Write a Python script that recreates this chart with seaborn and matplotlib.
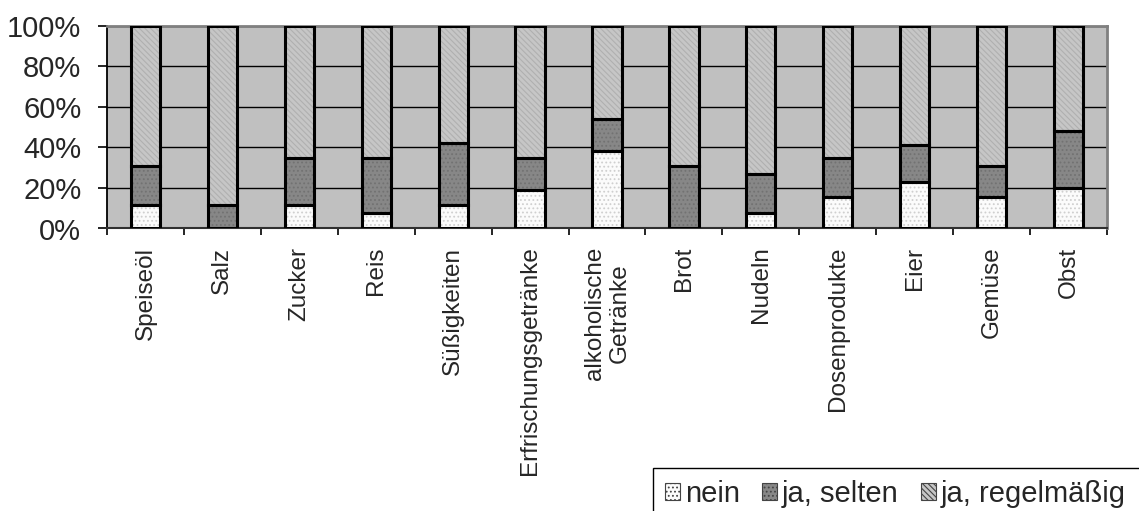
import matplotlib
matplotlib.use("Agg")
import matplotlib.pyplot as plt
from matplotlib.patches import Patch, Rectangle
import seaborn as sns
import pandas as pd

# Share of answers per food group (percent)
categories = ["Speiseöl", "Salz", "Zucker", "Reis", "Süßigkeiten",
              "Erfrischungsgetränke", "alkoholische\nGetränke", "Brot",
              "Nudeln", "Dosenprodukte", "Eier", "Gemüse", "Obst"]
nein = [11.5, 0.0, 11.5, 7.7, 11.5, 19.2, 38.5, 0.0, 7.7, 15.4, 23.1, 15.4, 20.0]
ja_selten = [19.2, 11.5, 23.1, 26.9, 30.8, 15.4, 15.4, 30.8, 19.2, 19.2, 18.1, 15.4, 28.0]
ja_regelmaessig = [69.3, 88.5, 65.4, 65.4, 57.7, 65.4, 46.1, 69.2, 73.1, 65.4, 58.8, 69.2, 52.0]
y_ticks = [0, 20, 40, 60, 80, 100]
y_ticklabels = ["0%", "20%", "40%", "60%", "80%", "100%"]
series_names = ["nein", "ja, selten", "ja, regelmäßig"]

df = pd.DataFrame({"Kategorie": categories, "nein": nein,
                   "ja, selten": ja_selten, "ja, regelmäßig": ja_regelmaessig})
df["b1"] = df["nein"]
df["b2"] = df["nein"] + df["ja, selten"]

sns.set_theme(style="white")
plt.rcParams["font.family"] = ["Liberation Sans", "DejaVu Sans"]
plt.rcParams["hatch.linewidth"] = 0.8

fig = plt.figure(figsize=(11.39, 5.11), dpi=100)
ax = fig.add_axes([107 / 1139, 1 - 228.5 / 511, 1000 / 1139, 202.5 / 511])
ax.set_facecolor("#C0C0C0")

styles = [
    ("nein", None, "#FBFBFB", "#CFCFCF", "...."),
    ("ja, selten", "b1", "#878787", "#727272", "...."),
    ("ja, regelmäßig", "b2", "#C6C6C6", "#B0B0B0", "\\\\\\\\\\\\"),
]
bar_w = 0.38
for name, bottom_col, face, hatch_col, hatch in styles:
    bottom = df[bottom_col].to_numpy() if bottom_col else 0
    n_before = len(ax.patches)
    sns.barplot(data=df, x="Kategorie", y=name, bottom=bottom, ax=ax,
                color=face, width=bar_w, linewidth=0, edgecolor=hatch_col,
                saturation=1, zorder=3)
    for p in ax.patches[n_before:]:
        p.set_hatch(hatch)
        p.set_facecolor(face)
        p.set_edgecolor(hatch_col)
        p.set_linewidth(0)

# black outlines on top of the textured fills
for name, bottom_col, *_ in styles:
    bottom = df[bottom_col].to_numpy() if bottom_col else 0
    sns.barplot(data=df, x="Kategorie", y=name, bottom=bottom, ax=ax,
                color="black", fill=False, width=bar_w, linewidth=2.2,
                edgecolor="black", zorder=4)

ax.set_xlim(-0.5, len(categories) - 0.5)
ax.set_ylim(0, 100)
ax.set_yticks(y_ticks)
ax.set_yticklabels(y_ticklabels, fontsize=21)
ax.yaxis.grid(True, color="black", linewidth=1.0, zorder=1)
ax.set_axisbelow(True)
ax.tick_params(axis="y", which="major", direction="out", length=6.5, width=1.2,
               color="black", left=True, pad=12)

# category labels centred on bars, tick marks on category boundaries
ax.set_xticks(range(len(categories)))
ax.set_xticklabels(categories, rotation=90, fontsize=17.5, va="top",
                   ha="center", multialignment="center", linespacing=1.15)
ax.tick_params(axis="x", which="major", length=0, pad=13)
ax.set_xticks([i - 0.5 for i in range(len(categories) + 1)], minor=True)
ax.tick_params(axis="x", which="minor", direction="out", length=5, width=1.2,
               color="black", bottom=True)
ax.set_xlabel("")
ax.set_ylabel("")

for side in ["top", "right"]:
    ax.spines[side].set_color("#808080")
    ax.spines[side].set_linewidth(2)
ax.spines["left"].set_color("black")
ax.spines["left"].set_linewidth(1.3)
ax.spines["bottom"].set_color("#303030")
ax.spines["bottom"].set_linewidth(1.5)

# legend box runs past the right and bottom edges of the figure
legend_box = Rectangle((653 / 1139, -0.2), 1.0, 1 - 468 / 511 + 0.2,
                       transform=fig.transFigure, fill=False,
                       edgecolor="black", linewidth=1.0)
fig.patches.append(legend_box)

leg_handles = [Patch(facecolor=s[2], edgecolor="#444444", hatch=s[4], linewidth=0.8)
               for s in styles]
leg = fig.legend(leg_handles, series_names, loc="upper left",
                 bbox_to_anchor=(653 / 1139, 1 - 468 / 511), ncol=3,
                 fontsize=21, frameon=False, handlelength=0.52,
                 handleheight=0.52, handletextpad=0.17, columnspacing=0.76,
                 borderpad=0.4, borderaxespad=0)

fig.savefig("out.png", dpi=100)
